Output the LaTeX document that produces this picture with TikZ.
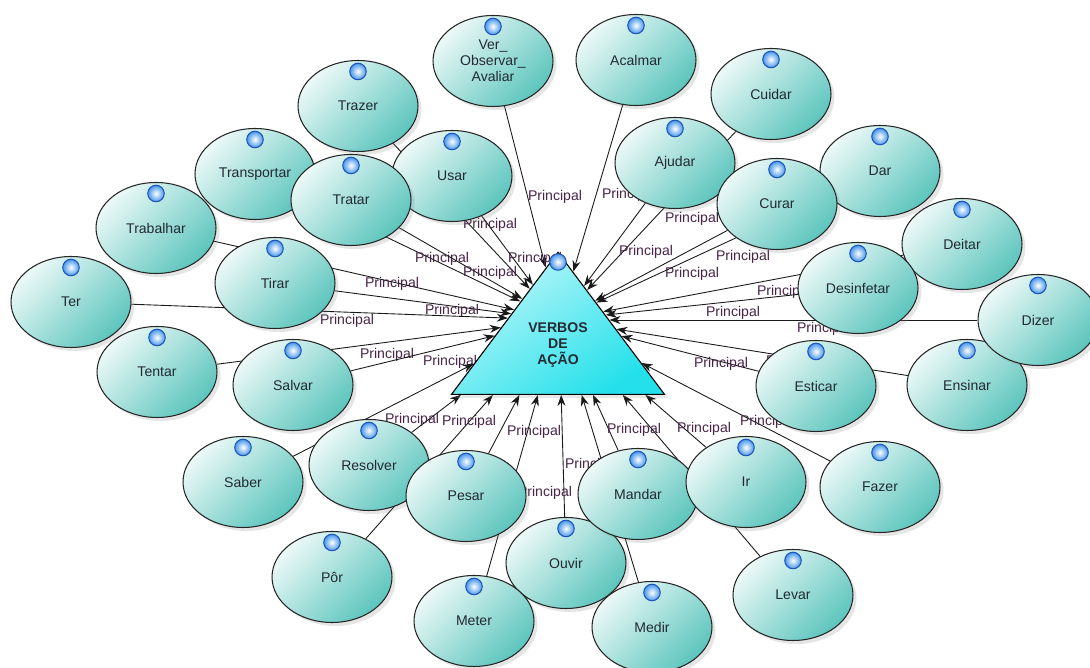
\documentclass[tikz,border=0pt]{standalone}
\usepackage{fontspec}
\setmainfont{Liberation Sans}
\usetikzlibrary{shapes.geometric,arrows.meta,shadows,backgrounds,intersections}

\definecolor{ellTop}{RGB}{236,249,247}
\definecolor{ellBot}{RGB}{92,197,189}
\definecolor{triTop}{RGB}{190,247,250}
\definecolor{triBot}{RGB}{35,224,234}
\definecolor{dotRim}{RGB}{30,85,185}
\definecolor{dotFill}{RGB}{70,150,235}
\definecolor{verbText}{RGB}{35,42,52}
\definecolor{lblText}{RGB}{72,36,72}

\tikzset{
  verb/.style={ellipse, draw=black!85, line width=0.6pt, minimum width=2.4cm,
    minimum height=1.82cm, inner sep=0pt, top color=ellTop, bottom color=ellBot,
    shading angle=45, text=verbText, font=\fontsize{8}{9}\selectfont, align=center,
    drop shadow={shadow xshift=2pt, shadow yshift=-2pt, opacity=0.2}},
  verbtri/.style={isosceles triangle, isosceles triangle stretches,
    shape border rotate=90, minimum width=4.26cm, minimum height=2.84cm,
    inner sep=0pt, draw=black, line width=0.6pt, top color=triTop,
    bottom color=triBot, shading angle=35,
    drop shadow={shadow xshift=2pt, shadow yshift=-2pt, opacity=0.18}},
  verbtxt/.style={text=verbText, font=\bfseries\fontsize{8}{9.3}\selectfont, align=center},
  bubble/.style={circle, minimum size=0.33cm, inner sep=0pt, draw=dotRim,
    line width=0.6pt, inner color=white, outer color=dotFill},
  conn/.style={draw=black!90, line width=0.5pt, -{Stealth[length=2.2mm, width=1.6mm]}},
  lbl/.style={text=lblText, font=\fontsize{8}{9}\selectfont, inner sep=1pt}
}

\begin{document}
\begin{tikzpicture}[x=0.02cm, y=-0.02cm]
\useasboundingbox (0,0) rectangle (1090,668);

% verbos (ellipses)
\foreach \n/\x/\y/\t in {ver/493/61/{Ver\_\\Observar\_\\Avaliar}, acalmar/636/60/Acalmar,
    trazer/358/106/Trazer, cuidar/771/94/Cuidar, transportar/255/174/Transportar,
    usar/452/176/Usar, tratar/351/200/Tratar, ajudar/675/163/Ajudar, dar/880/171/Dar,
    curar/777/204/Curar, trabalhar/156/228/Trabalhar, deitar/962/244/Deitar,
    tirar/275/283/Tirar, ter/71/302/Ter, desinfetar/858/288/Desinfetar,
    ensinar/967/385/Ensinar, dizer/1038/320/Dizer, tentar/157/372/Tentar,
    salvar/293/385/Salvar, esticar/816/386/Esticar, saber/243/482/Saber,
    resolver/369/465/Resolver, pesar/466/496/Pesar, ouvir/566/563/Ouvir,
    mandar/638/494/Mandar, ir/746/482/Ir, fazer/880/487/Fazer, por/332/577/Pôr,
    meter/474/621/Meter, medir/652/627/Medir, levar/793/595/Levar}
{
  \node[verb] (\n) at (\x,\y) {\t};
  \node[bubble] (\n-dot) at ([yshift=-0.23cm]\n.north) {};
}

% triangulo central
\node[verbtri, anchor=apex] (verbos) at (558,251) {};
\node[verbtxt] (verbostxt) at (558,345) {VERBOS\\DE\\AÇÃO};
\node[bubble] (verbos-dot) at ([yshift=-0.22cm]verbos.apex) {};
\coordinate (verbos-alvo) at (559,320);
\path[name path=trishape] (verbos.apex) -- (verbos.left corner) -- (verbos.right corner) -- cycle;

% ligacoes
\begin{pgfonlayer}{background}
\fill[white] (0,0) rectangle (1090,668);
\foreach \n/\lx/\ly in {ver/555/197, acalmar/629/195, trazer/535/259, cuidar/646/252,
    transportar/442/259, usar/490/225, tratar/490/273, ajudar/692/219, dar/743/257,
    curar/692/274, trabalhar/392/284, deitar/784/292, tirar/452/311, ter/347/321,
    desinfetar/733/313, ensinar/793/362, dizer/824/329, tentar/387/355,
    salvar/450/362, esticar/721/364, saber/369/455, resolver/412/420,
    pesar/534/432, ouvir/592/465, mandar/634/430, ir/704/429, fazer/767/422,
    por/469/422, meter/545/493, medir/638/520, levar/760/500}
{
  \path[name path=ray] (\n) -- (verbos-alvo);
  \draw[conn, name intersections={of=ray and trishape}] (\n) -- (intersection-1);
  \node[lbl] (\n-lbl) at (\lx,\ly) {Principal};
}
\end{pgfonlayer}
\end{tikzpicture}
\end{document}
